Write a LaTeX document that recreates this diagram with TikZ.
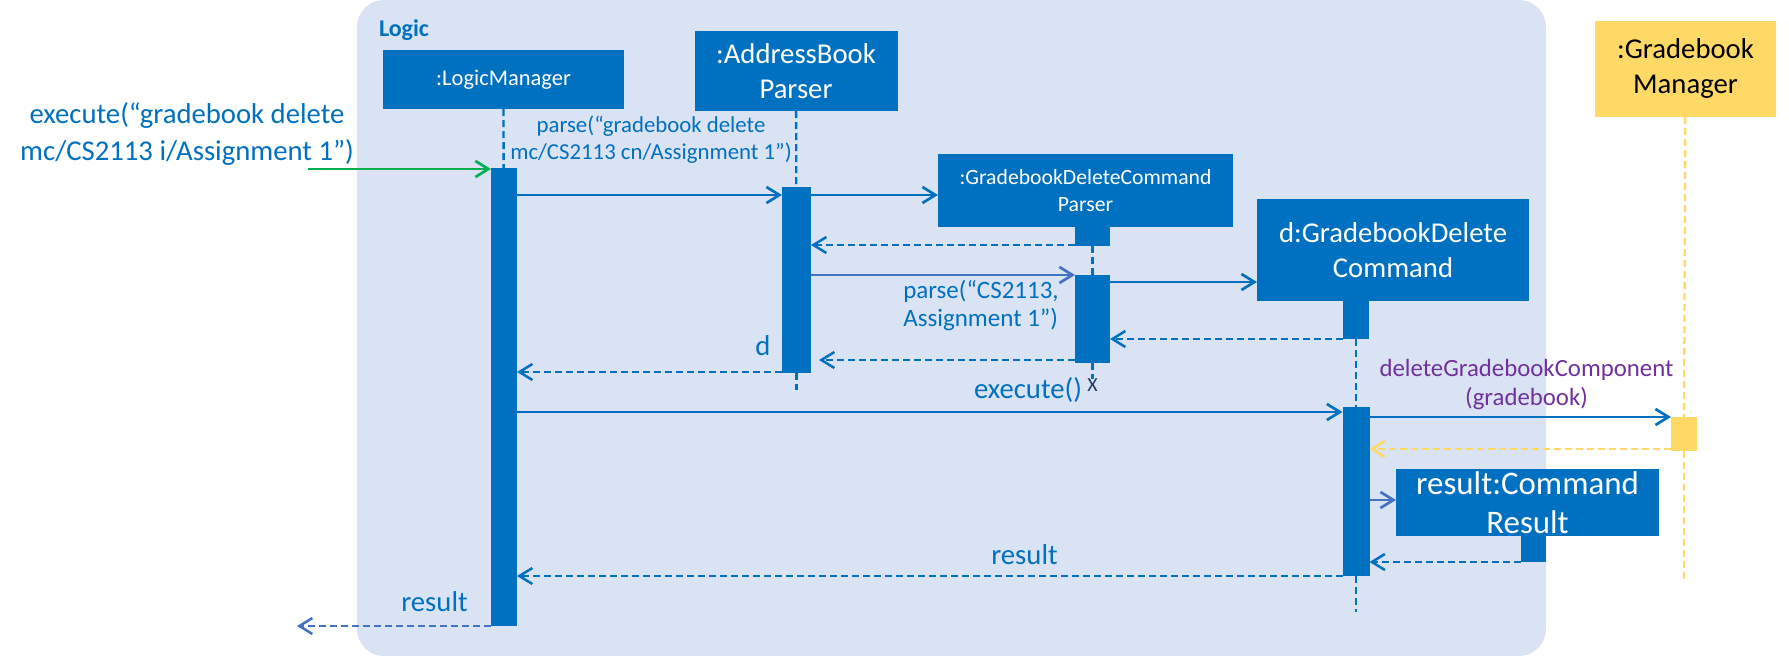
\documentclass[tikz,border=0pt]{standalone}
\usepackage{fontspec}
\setmainfont{Carlito}
\usetikzlibrary{arrows.meta}
\definecolor{umlblue}{HTML}{0070C0}
\definecolor{umllight}{HTML}{4472C4}
\definecolor{panelbg}{HTML}{DAE3F3}
\definecolor{callgreen}{HTML}{00B050}
\definecolor{gold}{HTML}{FFD966}
\definecolor{umlpurple}{HTML}{7030A0}
\definecolor{xnavy}{HTML}{1F3864}

\begin{document}
\begin{tikzpicture}[
    x=1pt, y=-1pt,
    every node/.style={inner sep=0pt, outer sep=0pt},
    obj/.style={rectangle, fill=umlblue, text=white, align=center},
    bar/.style={rectangle, fill=umlblue},
    life/.style={draw=umlblue, line width=2.3pt, dash pattern=on 7pt off 4pt},
    call/.style={-{Straight Barb[length=13pt,width=16pt]}, draw=umlblue, line width=2.7pt},
    ret/.style={call, line width=2.5pt, dash pattern=on 7pt off 4pt},
    msg/.style={text=umlblue, align=center},
    bigtxt/.style={font=\fontsize{28.7}{35}\selectfont},
    smalltxt/.style={font=\fontsize{22.5}{27}\selectfont}
]
\fill[white] (0,0) rectangle (1789,656);
\useasboundingbox (0,0) rectangle (1789,656);

% Logic component
\node[rectangle, fill=panelbg, rounded corners=27pt, minimum width=1189pt, minimum height=656pt] (logic) at (951.5,328) {};
\node[anchor=base west, text=umlblue, font=\bfseries\fontsize{24}{29}\selectfont] (logiclbl) at (379,36) {Logic};

% Objects
\node[obj, smalltxt, minimum width=241pt, minimum height=59pt] (lm) at (503.5,79.5) {:LogicManager};
\node[obj, bigtxt, minimum width=203pt, minimum height=80pt] (abp) at (796,71) {:AddressBook\\Parser};
\node[obj, font=\fontsize{21.7}{27}\selectfont, minimum width=295pt, minimum height=73pt] (gdcp) at (1085.5,190.5) {:GradebookDeleteCommand\\Parser};
\node[obj, bigtxt, minimum width=272pt, minimum height=102pt] (gdc) at (1393,250) {d:GradebookDelete\\Command};
\node[obj, fill=gold, text=black, bigtxt, minimum width=181pt, minimum height=96pt] (gbm) at (1685.5,69) {:Gradebook\\Manager};
\node[obj, font=\fontsize{32.9}{39}\selectfont, minimum width=263pt, minimum height=67pt] (res) at (1527.5,502.5) {result:Command\\Result};

% Activation bars
\node[bar, minimum width=26pt, minimum height=458pt] (lmbar) at (504,397) {};
\node[bar, minimum width=29pt, minimum height=186pt] (abbar) at (796.5,280) {};
\node[bar, minimum width=35pt, minimum height=19pt] (gdcpblk) at (1092.5,236.5) {};
\node[bar, minimum width=35pt, minimum height=88pt] (gdcpbar) at (1092.5,319) {};
\node[bar, minimum width=26pt, minimum height=38pt] (gdcblk) at (1356,320) {};
\node[bar, minimum width=27pt, minimum height=169pt] (gdcbar) at (1356,491.5) {};
\node[bar, fill=gold, minimum width=26pt, minimum height=34pt] (gbmbar) at (1684,434) {};
\node[bar, minimum width=25pt, minimum height=26pt] (resblk) at (1533.5,549) {};

% Labels
\node[msg, font=\fontsize{28.7}{37}\selectfont] (exlbl) at (187,133.5) {execute(“gradebook delete\\mc/CS2113 i/Assignment 1”)};
\node[msg, font=\fontsize{22.8}{27}\selectfont] (parselbl) at (651,139.5) {parse(“gradebook delete\\mc/CS2113 cn/Assignment 1”)};
\node[msg, align=left, font=\fontsize{25}{28}\selectfont] (parse2lbl) at (981,306) {parse(“CS2113,\\Assignment 1”)};
\node[msg, bigtxt] (dlbl) at (763,346) {d};
\node[text=xnavy, font=\fontsize{20}{24}\selectfont] (xmark) at (1092.5,385) {X};
\node[msg, bigtxt] (execlbl) at (1028,390) {execute()};
\node[msg, text=umlpurple, font=\fontsize{24.8}{29}\selectfont] (dellbl) at (1526.5,384.5) {deleteGradebookComponent\\(gradebook)};
\node[msg, bigtxt] (reslbl) at (1024.5,555) {result};
\node[msg, bigtxt] (resultlbl) at (434.5,602) {result};

% Loose ends
\coordinate (exstart) at (308,169);
\coordinate (resend) at (297,626);
\coordinate (abend) at (796.5,390);
\coordinate (gdcend) at (1356,612);
\coordinate (gbmend) at (1684,582);

% Lifelines
\draw[life] (lm) -- (lmbar);
\draw[life] (abp) -- (abbar);
\draw[life] (abbar) -- (abend);
\draw[life] (gdcpblk) -- (gdcpbar);
\draw[life] (gdcpbar) -- (xmark);
\draw[life] (gdcblk) -- (gdcbar);
\draw[life] (gdcbar) -- (gdcend);
\draw[life, draw=gold] (gbm) -- (gbmbar);
\draw[life, draw=gold] (gbmbar) -- (gbmend);

% Messages
\draw[call, draw=callgreen] (exstart) -- (lmbar.west |- exstart);
\draw[call] (lmbar.east |- 0,195) -- (abbar.west |- 0,195);
\draw[call] (abbar.east |- 0,195) -- (gdcp.west |- 0,195);
\draw[ret] (gdcpblk.west |- 0,245) -- (abbar.east |- 0,245);
\draw[call, draw=umllight] (abbar.east |- 0,275) -- (gdcpbar.west |- 0,275);
\draw[call] (gdcpbar.east |- 0,282) -- (gdc.west |- 0,282);
\draw[ret] (gdcblk.west |- 0,339) -- (gdcpbar.east |- 0,339);
\draw[ret, shorten >=8pt] (gdcpbar.west |- 0,360) -- (abbar.east |- 0,360);
\draw[ret] (abbar.west |- 0,372) -- (lmbar.east |- 0,372);
\draw[call] (lmbar.east |- 0,412) -- (gdcbar.west |- 0,412);
\draw[call] (gdcbar.east |- 0,417) -- (gbmbar.west |- 0,417);
\draw[ret, draw=gold] (gbmbar.west |- 0,449) -- (gdcbar.east |- 0,449);
\draw[call, draw=umllight] (gdcbar.east |- 0,500) -- (res.west |- 0,500);
\draw[ret] (resblk.west |- 0,562) -- (gdcbar.east |- 0,562);
\draw[ret] (gdcbar.west |- 0,576) -- (lmbar.east |- 0,576);
\draw[ret, draw=umllight] (lmbar.west |- 0,626) -- (resend);

\end{tikzpicture}
\end{document}
